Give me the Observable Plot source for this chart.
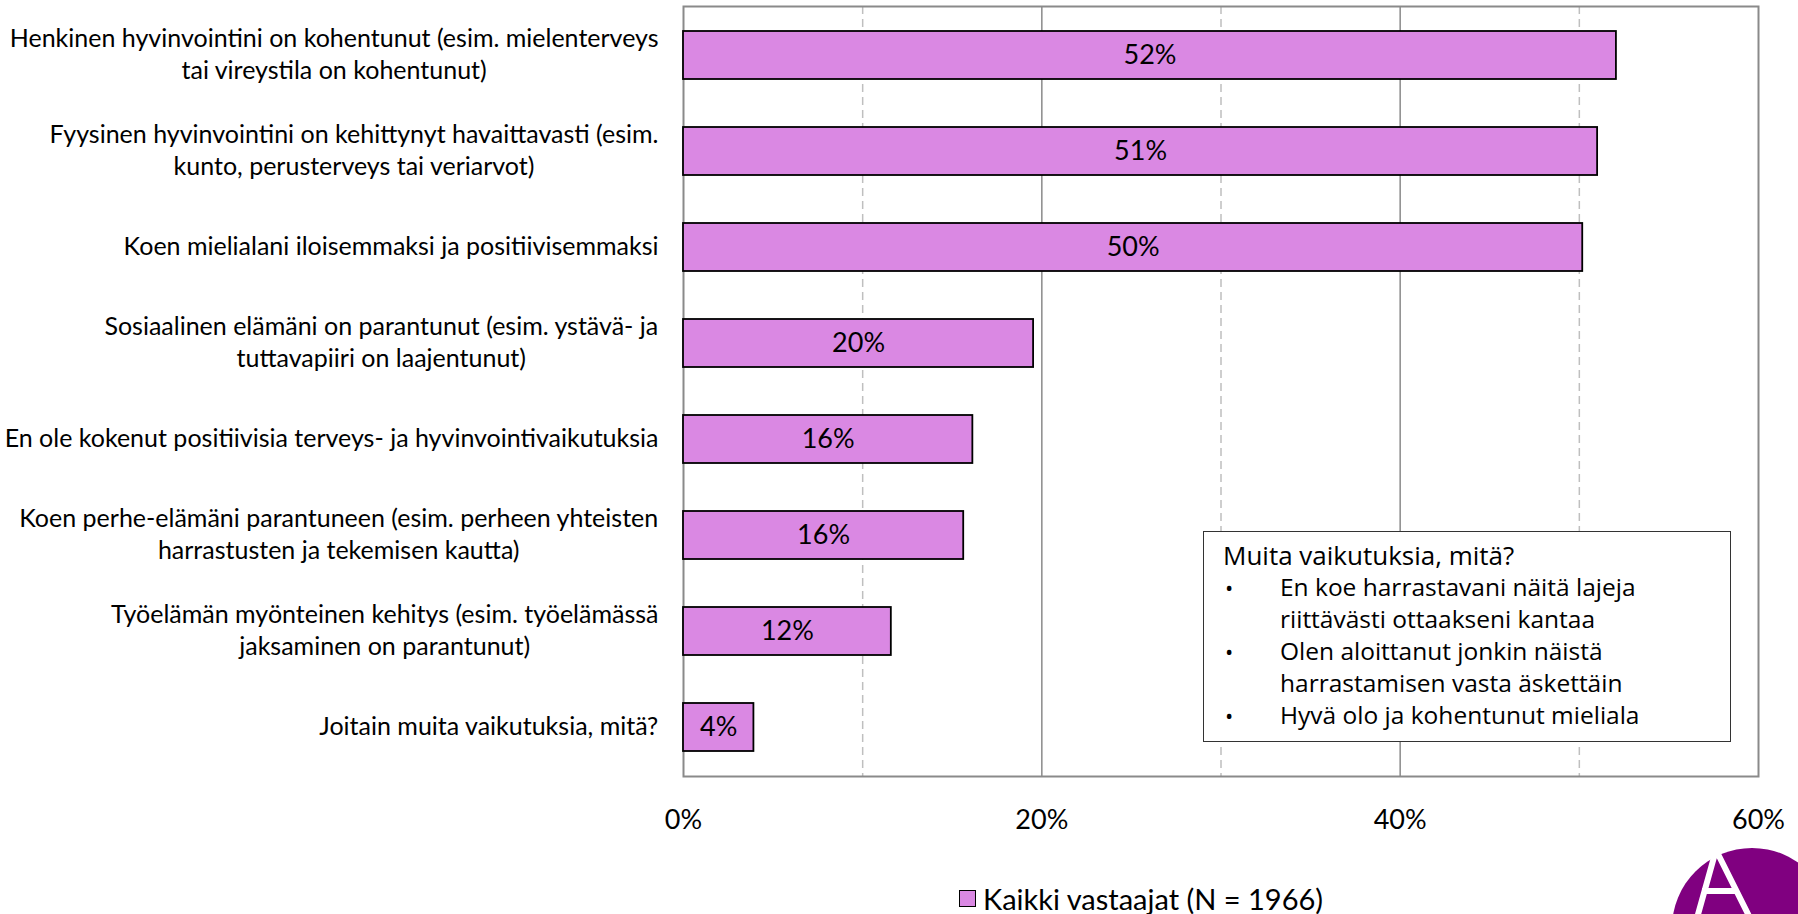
<!DOCTYPE html>
<html>
<head>
<meta charset="utf-8">
<script src="https://cdn.jsdelivr.net/npm/d3@7"></script>
<script src="https://cdn.jsdelivr.net/npm/@observablehq/plot@0.6"></script>
<style>
  html, body { margin: 0; padding: 0; background: #fff; width: 1798px; height: 914px; overflow: hidden; position: relative; }
  #chart { position: absolute; left: 0; top: 0; }
  #note { position: absolute; left: 1203px; top: 531px; width: 528px; height: 211px; border: 1.5px solid #333; background: #fff;
          font-family: "Open Sans", sans-serif; font-size: 24.5px; line-height: 32px; color: #000; box-sizing: border-box; padding: 7px 0 0 19px; }
  #note .title { font-size: 26px; }
  #note .item { display: flex; }
  #note .bullet { width: 55px; flex: none; padding-left: 2px; font-size: 22px; }
  #legend { position: absolute; top: 881px; left: 959px; display: flex; align-items: center; font-family: Lato, sans-serif; font-size: 29px; color: #000; }
  #legend .sw { width: 15px; height: 15px; border: 1.5px solid #000; background: #DA88E3; margin-right: 7px; }
  #logo { position: absolute; left: 1660px; top: 836px; }
</style>
</head>
<body>
<div id="chart"></div>
<div id="note"></div>
<div id="legend"></div>
<svg id="logo" width="138" height="78" viewBox="1660 836 138 78"></svg>
<script>
const categories = [
  "Henkinen hyvinvointini on kohentunut (esim. mielenterveys\ntai vireystila on kohentunut)",
  "Fyysinen hyvinvointini on kehittynyt havaittavasti (esim.\nkunto, perusterveys tai veriarvot)",
  "Koen mielialani iloisemmaksi ja positiivisemmaksi",
  "Sosiaalinen elämäni on parantunut (esim. ystävä- ja\ntuttavapiiri on laajentunut)",
  "En ole kokenut positiivisia terveys- ja hyvinvointivaikutuksia",
  "Koen perhe-elämäni parantuneen (esim. perheen yhteisten\nharrastusten ja tekemisen kautta)",
  "Työelämän myönteinen kehitys (esim. työelämässä\njaksaminen on parantunut)",
  "Joitain muita vaikutuksia, mitä?"
];
const values = [52.07, 51.02, 50.19, 19.54, 16.15, 15.64, 11.6, 3.93];
const xTicks = [0, 20, 40, 60];
const solidGrid = [20, 40];
const dashedGrid = [10, 30, 50];
const legendLabel = "Kaikki vastaajat (N = 1966)";
const noteTitle = "Muita vaikutuksia, mitä?";
const noteItems = [
  "En koe harrastavani näitä lajeja\nriittävästi ottaakseni kantaa",
  "Olen aloittanut jonkin näistä\nharrastamisen vasta äskettäin",
  "Hyvä olo ja kohentunut mieliala"
];

const barColor = "#DA88E3";
const labelFont = "Lato";
const labelSize = 25;

const data = categories.map((c, i) => ({cat: c, value: values[i]}));

// measure label widths to centre the wrapped lines under the widest line
const ctx = document.createElement("canvas").getContext("2d");
ctx.font = `${labelSize}px ${labelFont}`;
const widths = categories.map(c => d3.max(c.split("\n"), l => ctx.measureText(l).width));

const labelMarks = data.map((d, i) => Plot.text([d], {
  y: "cat", text: "cat", frameAnchor: "left", textAnchor: "middle",
  dx: -(25 + widths[i] / 2), dy: -3, fontSize: labelSize, fontFamily: labelFont,
  lineHeight: 32 / labelSize, fill: "#000"
}));

const chart = Plot.plot({
  width: 1798,
  height: 850,
  marginLeft: 683,
  marginRight: 40,
  marginTop: 6,
  marginBottom: 74,
  style: {fontFamily: labelFont, background: "transparent"},
  x: {domain: [0, 60], axis: null, label: null},
  y: {domain: categories, paddingInner: 0.5, paddingOuter: 0.25, axis: null},
  marks: [
    Plot.ruleX(dashedGrid, {stroke: "#bfbfbf", strokeWidth: 1.5, strokeDasharray: "8,5"}),
    Plot.ruleX(solidGrid, {stroke: "#8a8a8a", strokeWidth: 1.5}),
    Plot.frame({stroke: "#8a8a8a", strokeWidth: 2}),
    Plot.barX(data, {x: "value", y: "cat", fill: barColor, stroke: "#000", strokeWidth: 1.8}),
    Plot.text(data, {x: d => d.value / 2, y: "cat", text: d => Math.round(d.value) + "%", fontSize: 27, fontFamily: labelFont, fill: "#000"}),
    Plot.axisX(xTicks, {tickFormat: d => d + "%", tickSize: 0, tickPadding: 33, fontSize: 27, fontFamily: labelFont, fill: "#000", label: null}),
    ...labelMarks
  ]
});
document.getElementById("chart").appendChild(chart);

// note box
const note = document.getElementById("note");
const t = document.createElement("div"); t.className = "title"; t.textContent = noteTitle; note.appendChild(t);
noteItems.forEach(it => {
  const row = document.createElement("div"); row.className = "item";
  const b = document.createElement("div"); b.className = "bullet"; b.textContent = "•";
  const tx = document.createElement("div"); tx.style.whiteSpace = "pre"; tx.textContent = it;
  row.appendChild(b); row.appendChild(tx); note.appendChild(row);
});

// legend
const lg = document.getElementById("legend");
const sw = document.createElement("div"); sw.className = "sw"; lg.appendChild(sw);
const lt = document.createElement("span"); lt.textContent = legendLabel; lg.appendChild(lt);

// logo
const logo = d3.select("#logo");
logo.append("circle").attr("cx", 1752).attr("cy", 928).attr("r", 80).attr("fill", "#800080");
logo.append("path").attr("d", "M1697,918 L1716,850 L1750,918 M1702,891 L1737,891")
  .attr("fill", "none").attr("stroke", "#fff").attr("stroke-width", 6).attr("stroke-linejoin", "miter");
</script>
</body>
</html>
